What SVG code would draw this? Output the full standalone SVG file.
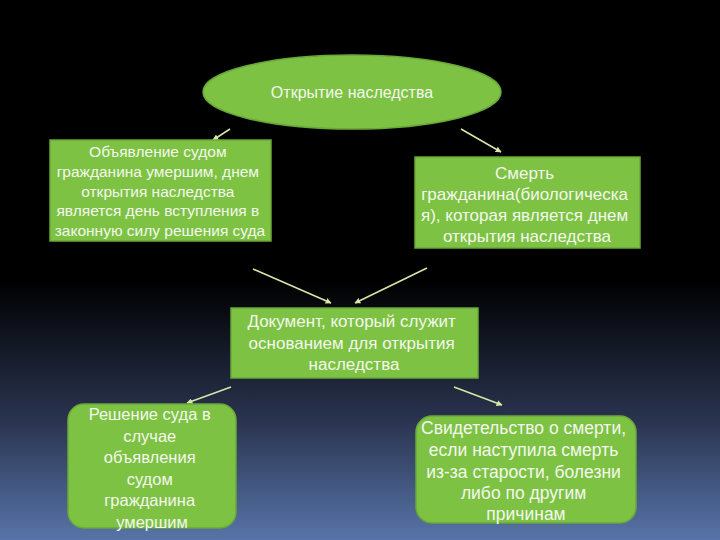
<svg xmlns="http://www.w3.org/2000/svg" width="720" height="540" viewBox="0 0 720 540">
  <defs>
    <linearGradient id="bg" x1="0" y1="0" x2="0" y2="1">
      <stop offset="0" stop-color="#000000"/>
      <stop offset="0.52" stop-color="#000000"/>
      <stop offset="0.78" stop-color="#2a3450"/>
      <stop offset="1" stop-color="#5874a8"/>
    </linearGradient>
    <marker id="arr" viewBox="0 0 10 10" refX="9" refY="5" markerWidth="4" markerHeight="4" orient="auto" markerUnits="strokeWidth">
      <path d="M0,0 L10,5 L0,10 z" fill="#d6e8a8"/>
    </marker>
  </defs>
  <style>
    .box { fill: #7dc242; stroke: #6aa83a; stroke-width: 1.5; }
    .t { font-family: "Liberation Sans", "DejaVu Sans", sans-serif; fill: #f3f8ee; text-anchor: middle; }
    .conn { stroke: #d6e8a8; stroke-width: 1.5; fill: none; marker-end: url(#arr); }
  </style>
  <rect x="0" y="0" width="720" height="540" fill="url(#bg)"/>

  <g id="connectors">
    <line class="conn" x1="230" y1="129" x2="213" y2="140"/>
    <line class="conn" x1="461" y1="129" x2="501" y2="152"/>
    <line class="conn" x1="253" y1="269" x2="331" y2="303"/>
    <line class="conn" x1="427" y1="268" x2="355" y2="303"/>
    <line class="conn" x1="231" y1="387" x2="187" y2="403"/>
    <line class="conn" x1="454" y1="387" x2="502" y2="405"/>
  </g>

  <g id="n-open">
    <ellipse class="box" cx="352" cy="92" rx="149" ry="37" stroke="#8fd150"/>
    <text class="t" x="352" y="98" font-size="16">Открытие наследства</text>
  </g>

  <g id="n-court">
    <rect class="box" x="50" y="140" width="221" height="101"/>
    <text class="t" font-size="15.5">
      <tspan x="160" y="157">Объявление судом</tspan>
      <tspan x="160" y="177">гражданина умершим, днем</tspan>
      <tspan x="160" y="197">открытия наследства</tspan>
      <tspan x="160" y="216">является день  вступления в</tspan>
      <tspan x="160" y="236">законную силу решения суда</tspan>
    </text>
  </g>

  <g id="n-death">
    <rect class="box" x="415" y="157" width="225" height="91"/>
    <text class="t" font-size="17">
      <tspan x="527" y="179">Смерть</tspan>
      <tspan x="527" y="200">гражданина(биологическа</tspan>
      <tspan x="527" y="221">я), которая является днем</tspan>
      <tspan x="527" y="242">открытия наследства</tspan>
    </text>
  </g>

  <g id="n-doc">
    <rect class="box" x="231" y="308" width="247" height="70"/>
    <text class="t" font-size="17">
      <tspan x="354" y="327">Документ, который служит</tspan>
      <tspan x="354" y="349">основанием для открытия</tspan>
      <tspan x="354" y="370">наследства</tspan>
    </text>
  </g>

  <g id="n-decision">
    <rect class="box" x="68" y="404" width="168" height="124" rx="16"/>
    <text class="t" font-size="16.5">
      <tspan x="152" y="420">Решение суда в</tspan>
      <tspan x="152" y="442">случае</tspan>
      <tspan x="152" y="463">объявления</tspan>
      <tspan x="152" y="485">судом</tspan>
      <tspan x="152" y="506">гражданина</tspan>
      <tspan x="152" y="528">умершим</tspan>
    </text>
  </g>

  <g id="n-cert">
    <rect class="box" x="416" y="416" width="220" height="107" rx="16"/>
    <text class="t" font-size="17.5">
      <tspan x="526" y="434">Свидетельство о смерти,</tspan>
      <tspan x="526" y="456">если наступила смерть</tspan>
      <tspan x="526" y="478">из-за старости, болезни</tspan>
      <tspan x="526" y="499">либо по другим</tspan>
      <tspan x="526" y="520">причинам</tspan>
    </text>
  </g>
</svg>
